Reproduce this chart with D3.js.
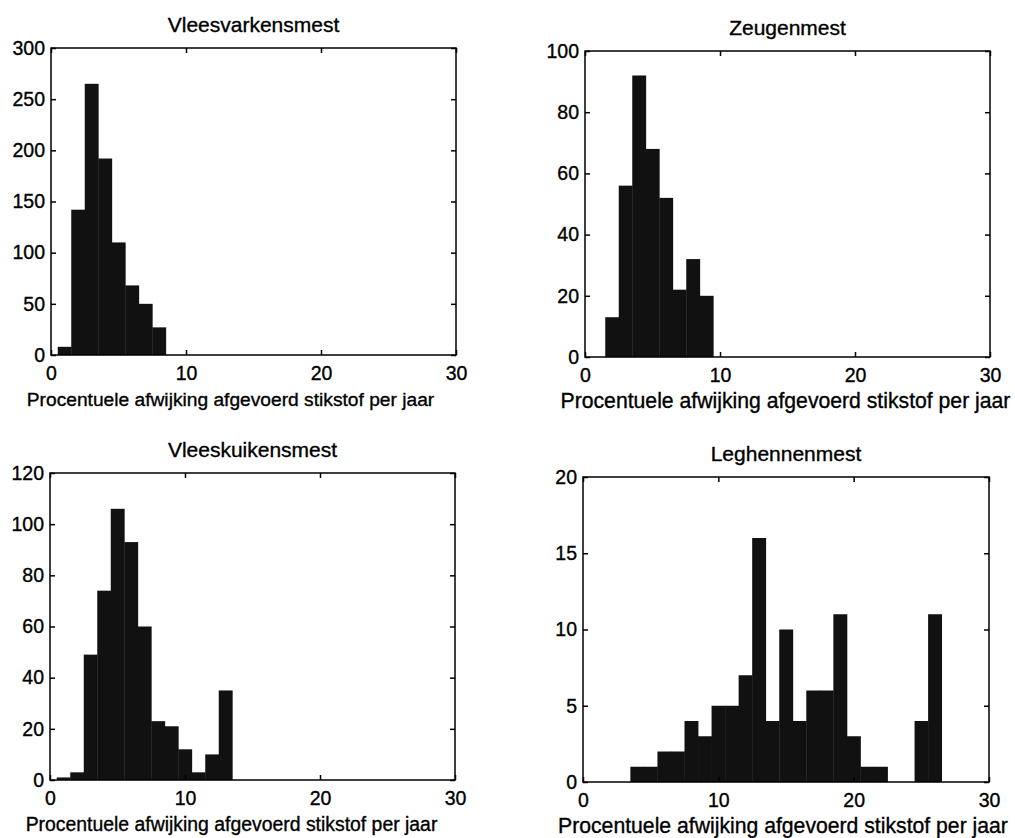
<!DOCTYPE html>
<html>
<head>
<meta charset="utf-8">
<script src="https://cdn.jsdelivr.net/npm/d3@7"></script>
<style>
  body { margin: 0; background: #fff; }
  svg { display: block; }
  text { font-family: "Liberation Sans", Arial, sans-serif; fill: #000; stroke: #000; stroke-width: 0.35; }
  .frame { fill: none; stroke: #000; stroke-width: 1.5; }
</style>
</head>
<body>
<div id="chart"></div>
<script>
// counts per 1% bin, first bin centred at 1
const vleesvarkensmest = [8, 142, 265, 192, 110, 68, 50, 27];
const zeugenmest = [0, 13, 56, 92, 68, 52, 22, 32, 20];
const vleeskuikensmest = [1, 3, 49, 74, 106, 93, 60, 23, 21, 12, 3, 10, 35];
const leghennenmest = [0, 0, 0, 1, 1, 2, 2, 4, 3, 5, 5, 7, 16, 4, 10, 4, 6, 6, 11, 3, 1, 1, 0, 0, 4, 11];

const titles = ["Vleesvarkensmest", "Zeugenmest", "Vleeskuikensmest", "Leghennenmest"];
const yTicks = [
    [0, 50, 100, 150, 200, 250, 300],
    [0, 20, 40, 60, 80, 100],
    [0, 20, 40, 60, 80, 100, 120],
    [0, 5, 10, 15, 20]
];
const xTicks = [0, 10, 20, 30];
const xLabel = "Procentuele afwijking afgevoerd stikstof per jaar";

// axes boxes, in page pixels; the scan has the right-hand labels a bit wider
const boxes = [
    {left: 51, right: 456, top: 48, bottom: 355, labelShift: -23, labelSize: 19.2},
    {left: 585, right: 990, top: 51, bottom: 357, labelShift: -2, labelSize: 21.2},
    {left: 50, right: 455, top: 473, bottom: 780, labelShift: -21, labelSize: 19.4},
    {left: 583, right: 989, top: 477, bottom: 782, labelShift: -3, labelSize: 21.2}
];

const series = [vleesvarkensmest, zeugenmest, vleeskuikensmest, leghennenmest];

const svg = d3.select("#chart")
    .append("svg")
    .attr("width", 1015)
    .attr("height", 838);

series.forEach((counts, i) => {
    const b = boxes[i];
    const yt = yTicks[i];

    let x = d3.scaleLinear().domain([0, 30]).range([b.left, b.right]);
    let y = d3.scaleLinear().domain([0, yt[yt.length - 1]]).range([b.bottom, b.top]);

    const g = svg.append("g").attr("class", "panel");

    const bins = counts.map((c, k) => ({center: k + 1, count: c})).filter(d => d.count > 0);

    g.append("g")
        .selectAll("rect")
        .data(bins)
        .enter().append("rect")
        .attr("x", d => x(d.center - 0.5))
        .attr("width", d => x(d.center + 0.5) - x(d.center - 0.5) + 0.4)
        .attr("y", d => y(d.count))
        .attr("height", d => y(0) - y(d.count))
        .style("fill", "#111");

    // bottom / left axes with labels, ticks pointing inward
    g.append("g")
        .attr("transform", `translate(0,${b.bottom})`)
        .call(d3.axisBottom(x).tickValues(xTicks).tickSize(-5).tickPadding(11))
        .call(a => a.select(".domain").remove())
        .call(a => a.selectAll("line").style("stroke-width", 1.5))
        .call(a => a.selectAll("text").style("font-size", "19.5px"));

    g.append("g")
        .attr("transform", `translate(${b.left},0)`)
        .call(d3.axisLeft(y).tickValues(yt).tickSize(-5).tickPadding(6))
        .call(a => a.select(".domain").remove())
        .call(a => a.selectAll("line").style("stroke-width", 1.5))
        .call(a => a.selectAll("text").style("font-size", "19.5px"));

    // top / right ticks without labels
    g.append("g")
        .attr("transform", `translate(0,${b.top})`)
        .call(d3.axisTop(x).tickValues(xTicks).tickSize(-5).tickFormat(""))
        .call(a => a.select(".domain").remove())
        .call(a => a.selectAll("line").style("stroke-width", 1.5));

    g.append("g")
        .attr("transform", `translate(${b.right},0)`)
        .call(d3.axisRight(y).tickValues(yt).tickSize(-5).tickFormat(""))
        .call(a => a.select(".domain").remove())
        .call(a => a.selectAll("line").style("stroke-width", 1.5));

    g.append("rect")
        .attr("class", "frame")
        .attr("x", b.left)
        .attr("y", b.top)
        .attr("width", b.right - b.left)
        .attr("height", b.bottom - b.top);

    g.append("text")
        .attr("x", (b.left + b.right) / 2)
        .attr("y", b.top - 16)
        .attr("text-anchor", "middle")
        .style("font-size", "21px")
        .text(titles[i]);

    g.append("text")
        .attr("x", (b.left + b.right) / 2 + b.labelShift)
        .attr("y", b.bottom + 51)
        .attr("text-anchor", "middle")
        .style("font-size", b.labelSize + "px")
        .text(xLabel);
});
</script>
</body>
</html>
